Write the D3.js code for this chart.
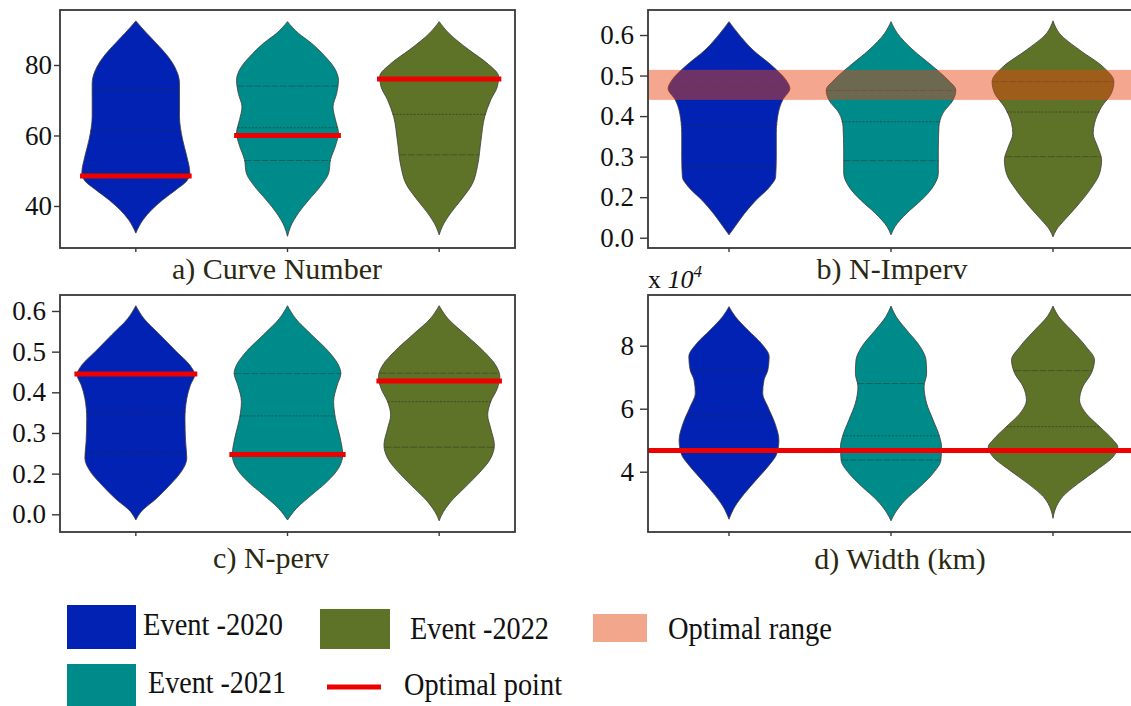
<!DOCTYPE html>
<html>
<head>
<meta charset="utf-8">
<script src="https://cdn.jsdelivr.net/npm/d3@7"></script>
<style>
  body { margin: 0; background: #ffffff; }
  svg { display: block; }
  text { font-family: "Liberation Serif", "Times New Roman", serif; }
</style>
</head>
<body>
<svg id="chart" width="1131" height="706"></svg>
<script>
// ---- categories & colours ----
const events = ["Event -2020", "Event -2021", "Event -2022"];
const eventColors = ["#0222b4", "#008b8b", "#5f7328"];

// ---- violin profiles: [parameter value, relative density] ----
// a) Curve Number
const cn2020 = [[92.5,0],[89,0.18],[86.1,0.34],[82.4,0.53],[79.5,0.64],[74.8,0.72],[65.4,0.72],[58.9,0.77],[54.1,0.84],[49.4,0.89],[47.1,0.84],[44.7,0.67],[41.7,0.44],[38.9,0.26],[36.1,0.12],[32.3,0]];
const cn2021 = [[92.3,0],[89,0.18],[86.1,0.4],[82.4,0.62],[79.5,0.76],[75.7,0.84],[71.9,0.81],[68.1,0.75],[64.5,0.79],[60.7,0.84],[57,0.79],[53.2,0.71],[49.4,0.68],[45.5,0.54],[41.7,0.35],[38,0.18],[34.1,0.05],[31.4,0]];
const cn2022 = [[92.3,0],[89,0.16],[84.3,0.49],[80.5,0.79],[76.7,0.98],[73.9,0.96],[70.1,0.85],[65.3,0.75],[58.7,0.69],[51.2,0.63],[46.4,0.55],[41.7,0.36],[38,0.19],[34.1,0.05],[31.8,0]];
// b) N-Imperv
const ni2020 = [[0.633,0],[0.604,0.14],[0.563,0.37],[0.522,0.68],[0.489,0.88],[0.468,0.94],[0.44,0.83],[0.407,0.76],[0.357,0.73],[0.3,0.73],[0.25,0.72],[0.226,0.63],[0.193,0.42],[0.16,0.24],[0.127,0.09],[0.107,0]];
const ni2021 = [[0.633,0],[0.604,0.1],[0.563,0.34],[0.522,0.65],[0.489,0.88],[0.464,1.0],[0.44,0.96],[0.407,0.8],[0.374,0.74],[0.316,0.73],[0.259,0.73],[0.226,0.65],[0.193,0.47],[0.16,0.24],[0.127,0.06],[0.107,0]];
const ni2022 = [[0.635,0],[0.604,0.1],[0.563,0.41],[0.522,0.77],[0.485,0.94],[0.456,0.9],[0.423,0.75],[0.382,0.64],[0.357,0.62],[0.324,0.69],[0.292,0.75],[0.259,0.72],[0.218,0.57],[0.176,0.36],[0.144,0.18],[0.119,0.05],[0.102,0]];
// c) N-perv
const np2020 = [[0.613,0],[0.582,0.13],[0.541,0.4],[0.5,0.67],[0.467,0.89],[0.443,0.97],[0.418,0.9],[0.385,0.84],[0.336,0.81],[0.279,0.82],[0.238,0.84],[0.205,0.75],[0.172,0.56],[0.139,0.34],[0.107,0.09],[0.086,0]];
const np2021 = [[0.613,0],[0.582,0.13],[0.541,0.4],[0.5,0.68],[0.467,0.84],[0.447,0.88],[0.418,0.82],[0.377,0.76],[0.336,0.79],[0.287,0.87],[0.246,0.91],[0.213,0.84],[0.18,0.65],[0.148,0.4],[0.115,0.15],[0.086,0]];
const np2022 = [[0.613,0],[0.582,0.14],[0.541,0.44],[0.5,0.74],[0.467,0.93],[0.439,1.0],[0.41,0.96],[0.377,0.85],[0.344,0.8],[0.311,0.85],[0.27,0.91],[0.238,0.85],[0.197,0.63],[0.164,0.41],[0.131,0.19],[0.098,0.04],[0.084,0]];
// d) Width (x 10^4)
const wd2020 = [[9.24,0],[8.92,0.1],[8.5,0.29],[8.07,0.5],[7.65,0.62],[7.23,0.6],[6.91,0.54],[6.49,0.52],[6.06,0.6],[5.53,0.71],[5.0,0.77],[4.58,0.74],[4.16,0.6],[3.74,0.42],[3.31,0.24],[2.89,0.09],[2.49,0]];
const wd2021 = [[9.26,0],[8.92,0.08],[8.5,0.24],[7.97,0.45],[7.55,0.54],[7.12,0.55],[6.7,0.51],[6.17,0.55],[5.64,0.65],[5.11,0.75],[4.79,0.78],[4.37,0.77],[3.95,0.65],[3.53,0.45],[3.1,0.22],[2.68,0.06],[2.44,0]];
const wd2022 = [[9.26,0],[8.92,0.09],[8.5,0.28],[7.97,0.51],[7.55,0.64],[7.12,0.59],[6.7,0.46],[6.28,0.41],[5.85,0.51],[5.43,0.72],[5.0,0.93],[4.79,1.0],[4.48,0.93],[4.05,0.67],[3.63,0.39],[3.21,0.15],[2.78,0.03],[2.52,0]];

// ---- quartiles [Q3, median, Q1] per event ----
const cnQuartiles = [[73.1,61.4,49.5],[74.0,62.2,52.9],[75.8,66.0,54.5]];
const niQuartiles = [[0.471,0.379,0.275],[0.463,0.386,0.29],[0.485,0.41,0.3]];
const npQuartiles = [[0.445,0.351,0.252],[0.446,0.342,0.246],[0.447,0.377,0.265]];
const wdQuartiles = [[7.23,5.77,4.7],[6.8,5.14,4.37],[7.21,5.43,4.7]];

// ---- calibrated optimum ----
const cnOptimal = [48.5, 60.0, 76.0];
const npOptimal = [0.445, 0.247, 0.428];
const wdOptimal = 4.67;
const niOptimalRange = [0.44, 0.514];

// ---- tick values and labels ----
const cnTicks = [80, 60, 40];
const cnTickLabels = ["80", "60", "40"];
const nTicks = [0.6, 0.5, 0.4, 0.3, 0.2, 0.1];
const nTickLabels = ["0.6", "0.5", "0.4", "0.3", "0.2", "0.0"];
const wdTicks = [8, 6, 4];
const wdTickLabels = ["8", "6", "4"];

const legendItems = [
  { label: "Event -2020", kind: "patch", color: eventColors[0] },
  { label: "Event -2021", kind: "patch", color: eventColors[1] },
  { label: "Event -2022", kind: "patch", color: eventColors[2] },
  { label: "Optimal point", kind: "line", color: "#ec0000" },
  { label: "Optimal range", kind: "patch", color: "#f2a68c" }
];

// ---- panel layout ----
const panels = [
  { title: "a) Curve Number", profiles: [cn2020, cn2021, cn2022], quartiles: cnQuartiles,
    optimal: cnOptimal, ticks: cnTicks, tickLabels: cnTickLabels,
    left: 60, right: 515, top: 10, bottom: 248, yDomain: [28.08, 95.6],
    tickSize: 6, tickPad: 2, titleX: 277, titleY: 279 },
  { title: "b) N-Imperv", profiles: [ni2020, ni2021, ni2022], quartiles: niQuartiles,
    range: niOptimalRange, ticks: nTicks, tickLabels: nTickLabels,
    left: 648, right: 1134, top: 10, bottom: 248, yDomain: [0.0746, 0.6617],
    tickSize: 8, tickPad: 6, titleX: 892, titleY: 279 },
  { title: "c) N-perv", profiles: [np2020, np2021, np2022], quartiles: npQuartiles,
    optimal: npOptimal, ticks: nTicks, tickLabels: nTickLabels,
    left: 60, right: 515, top: 295, bottom: 532, yDomain: [0.0565, 0.6393],
    tickSize: 8, tickPad: 6, titleX: 271, titleY: 568 },
  { title: "d) Width (km)", profiles: [wd2020, wd2021, wd2022], quartiles: wdQuartiles,
    optimalLine: wdOptimal, ticks: wdTicks, tickLabels: wdTickLabels,
    left: 648, right: 1134, top: 295, bottom: 532, yDomain: [2.086, 9.61],
    tickSize: 8, tickPad: 6, titleX: 900, titleY: 569, multiplier: true }
];

const svg = d3.select("#chart");
svg.append("rect").attr("width", 1131).attr("height", 706).attr("fill", "#fff");

// linear lookup of the density at a value along a profile
function densityAt(profile, v) {
  for (let i = 0; i < profile.length - 1; i++) {
    const a = profile[i], b = profile[i + 1];
    if (v <= a[0] && v >= b[0]) {
      const t = (a[0] - v) / (a[0] - b[0]);
      return a[1] + t * (b[1] - a[1]);
    }
  }
  return 0;
}

function drawPanel(p) {
  const g = svg.append("g");
  const x = d3.scaleBand().domain(events).range([p.left, p.right]);
  const y = d3.scaleLinear().domain(p.yDomain).range([p.bottom, p.top]);
  const w = d3.scaleLinear().domain([0, 1]).range([0, x.bandwidth() * 0.4]);
  const cx = e => x(e) + x.bandwidth() / 2;

  // violin bodies
  events.forEach((e, i) => {
    const area = d3.area()
      .y(d => y(d[0]))
      .x0(d => cx(e) - w(d[1]))
      .x1(d => cx(e) + w(d[1]))
      .curve(d3.curveMonotoneY);
    g.append("path")
      .attr("d", area(p.profiles[i]))
      .attr("fill", eventColors[i])
      .attr("stroke", "#3c3c3c")
      .attr("stroke-width", 0.8);

    // quartile lines
    p.quartiles[i].forEach((q, k) => {
      const hw = w(densityAt(p.profiles[i], q));
      g.append("line")
        .attr("x1", cx(e) - hw).attr("x2", cx(e) + hw)
        .attr("y1", y(q)).attr("y2", y(q))
        .attr("stroke", "#2a2a2a")
        .attr("stroke-opacity", k === 1 ? 0.75 : 0.55)
        .attr("stroke-width", 0.8)
        .attr("stroke-dasharray", k === 1 ? "2,1.5" : "7,1.5");
    });
  });

  // optimal range band
  if (p.range) {
    g.append("rect")
      .attr("x", p.left).attr("width", p.right - p.left)
      .attr("y", y(p.range[1])).attr("height", y(p.range[0]) - y(p.range[1]))
      .attr("fill", "#e8440f").attr("fill-opacity", 0.47);
  }

  // optimal points per event
  if (p.optimal) {
    events.forEach((e, i) => {
      const hw = w(densityAt(p.profiles[i], p.optimal[i])) + 3;
      g.append("line")
        .attr("x1", cx(e) - hw).attr("x2", cx(e) + hw)
        .attr("y1", y(p.optimal[i])).attr("y2", y(p.optimal[i]))
        .attr("stroke", "#ec0000").attr("stroke-width", 5);
    });
  }
  // optimal point shared by all events
  if (p.optimalLine !== undefined) {
    g.append("line")
      .attr("x1", p.left).attr("x2", p.right)
      .attr("y1", y(p.optimalLine)).attr("y2", y(p.optimalLine))
      .attr("stroke", "#ec0000").attr("stroke-width", 5);
  }

  // frame
  g.append("rect")
    .attr("x", p.left).attr("y", p.top)
    .attr("width", p.right - p.left).attr("height", p.bottom - p.top)
    .attr("fill", "none").attr("stroke", "#383838").attr("stroke-width", 1.8);

  // left axis
  const ya = g.append("g").attr("transform", `translate(${p.left},0)`)
    .call(d3.axisLeft(y).tickValues(p.ticks)
      .tickFormat((d, i) => p.tickLabels[i])
      .tickSize(p.tickSize).tickPadding(p.tickPad));
  ya.select(".domain").remove();
  ya.selectAll("line").attr("stroke", "#383838").attr("stroke-width", 1.4);
  ya.selectAll("text").attr("font-size", 27).attr("fill", "#111")
    .attr("font-family", "Liberation Serif, Times New Roman, serif");

  // bottom axis (category ticks only)
  const xa = g.append("g").attr("transform", `translate(0,${p.bottom})`)
    .call(d3.axisBottom(x).tickSize(4).tickFormat(""));
  xa.select(".domain").remove();
  xa.selectAll("line").attr("stroke", "#383838").attr("stroke-width", 1.4);

  // title
  g.append("text")
    .attr("x", p.titleX).attr("y", p.titleY)
    .attr("text-anchor", "middle")
    .attr("font-size", 30)
    .attr("fill", "#2b2812")
    .text(p.title);

  if (p.multiplier) {
    const t = g.append("text").attr("x", p.left).attr("y", p.top - 7)
      .attr("font-size", 26).attr("fill", "#111");
    t.append("tspan").text("x ");
    t.append("tspan").attr("font-style", "italic").text("10");
    t.append("tspan").attr("font-style", "italic").attr("font-size", 17)
      .attr("dy", -11).text("4");
  }
}

panels.forEach(drawPanel);

// ---- legend ----
const legendPos = [
  { x: 67, y: 605, w: 69, h: 44, tx: 143, ty: 635, tw: 140 },
  { x: 67, y: 664, w: 69, h: 44, tx: 148, ty: 693, tw: 138 },
  { x: 320, y: 609, w: 70, h: 40, tx: 410, ty: 639, tw: 139 },
  { x: 327, y: 687, w: 54, h: 0, tx: 404, ty: 695, tw: 158 },
  { x: 593, y: 614, w: 54, h: 28, tx: 668, ty: 639, tw: 164 }
];
const legend = svg.append("g");
legendItems.forEach((item, i) => {
  const pos = legendPos[i];
  if (item.kind === "patch") {
    legend.append("rect").attr("x", pos.x).attr("y", pos.y)
      .attr("width", pos.w).attr("height", pos.h).attr("fill", item.color);
  } else {
    legend.append("line").attr("x1", pos.x).attr("x2", pos.x + pos.w)
      .attr("y1", pos.y).attr("y2", pos.y)
      .attr("stroke", item.color).attr("stroke-width", 5);
  }
  legend.append("text").attr("x", pos.tx).attr("y", pos.ty)
    .attr("font-size", 31).attr("fill", "#111")
    .attr("textLength", pos.tw).attr("lengthAdjust", "spacingAndGlyphs")
    .text(item.label);
});
</script>
</body>
</html>
